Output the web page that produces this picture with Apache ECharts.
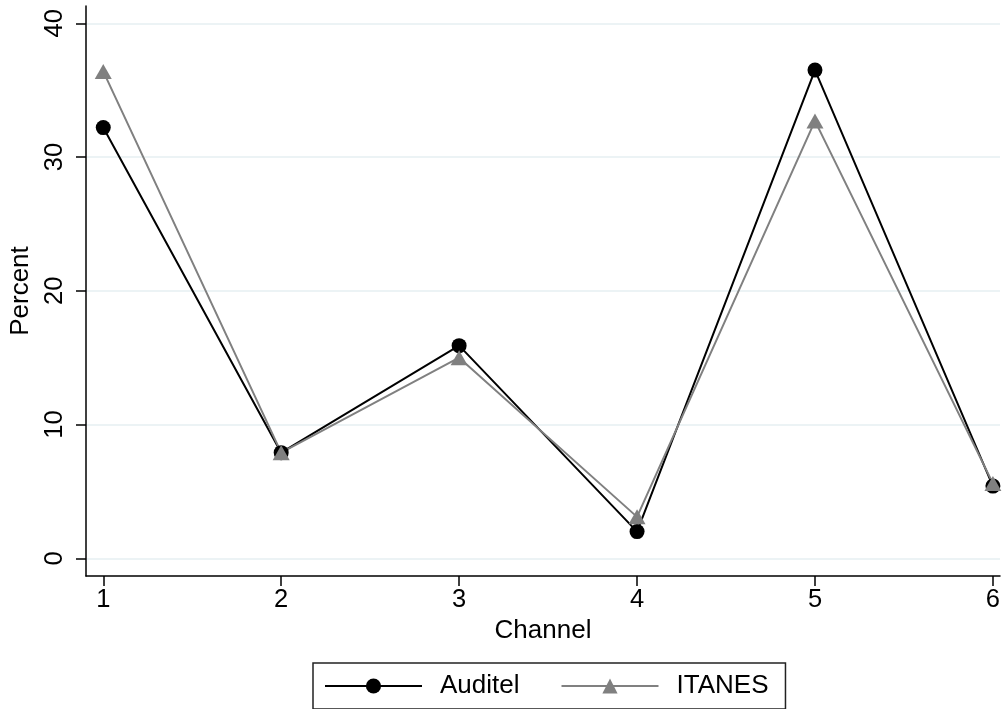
<!DOCTYPE html>
<html>
<head>
<meta charset="utf-8">
<script src="https://cdn.jsdelivr.net/npm/echarts@6/dist/echarts.min.js"></script>
<style>html,body{margin:0;padding:0;background:#fff;}#chart{width:1003px;height:709px;}</style>
</head>
<body>
<div id="chart"></div>
<script>
const channels = [1, 2, 3, 4, 5, 6];
const auditel = [32.2, 7.9, 15.9, 2.0, 36.5, 5.4];
const itanes = [36.4, 7.9, 15.0, 3.1, 32.7, 5.6];
const yTicks = [0, 10, 20, 30, 40];
const xTicks = [1, 2, 3, 4, 5, 6];

const font = '"Liberation Sans", Arial, sans-serif';
const chart = echarts.init(document.getElementById('chart'), null, {renderer: 'canvas'});
chart.setOption({
  backgroundColor: '#ffffff',
  animation: false,
  grid: {left: 86, right: 2, top: 6, bottom: 133, containLabel: false},
  xAxis: {
    type: 'value', min: 0.903, max: 6.04,
    name: 'Channel', nameLocation: 'middle', nameGap: 41,
    nameTextStyle: {fontFamily: font, fontSize: 26, color: '#000'},
    axisLine: {onZero: false, lineStyle: {color: '#000', width: 1.5}},
    axisTick: {show: true, length: 10, inside: false, customValues: xTicks, lineStyle: {color: '#000', width: 1.5}},
    axisLabel: {customValues: xTicks, fontFamily: font, fontSize: 25.5, color: '#000', margin: 11},
    splitLine: {show: false}
  },
  yAxis: {
    type: 'value', min: -1.32, max: 41.29,
    name: 'Percent', nameLocation: 'middle', nameGap: 50, nameRotate: 90,
    nameTextStyle: {fontFamily: font, fontSize: 26, color: '#000'},
    axisLine: {show: true, onZero: false, lineStyle: {color: '#000', width: 1.5}},
    axisTick: {show: true, length: 10, inside: false, customValues: yTicks, lineStyle: {color: '#000', width: 1.5}},
    axisLabel: {customValues: yTicks, rotate: 90, fontFamily: font, fontSize: 25.5, color: '#000', margin: 18},
    splitLine: {show: true, lineStyle: {color: '#e6eff2', width: 1.5}}
  },
  legend: {
    left: 313, top: 663,
    padding: [10, 17, 10, 11],
    borderColor: '#222', borderWidth: 1.5,
    itemWidth: 97, itemHeight: 19, itemGap: 41,
    textStyle: {fontFamily: font, fontSize: 26, color: '#000', padding: [0, 0, 0, 13]},
    data: ['Auditel', 'ITANES']
  },
  series: [
    {
      name: 'Auditel', type: 'line',
      data: channels.map((c, i) => [c, auditel[i]]),
      symbol: 'circle', symbolSize: 15,
      lineStyle: {color: '#000', width: 2},
      itemStyle: {color: '#000'}
    },
    {
      name: 'ITANES', type: 'line',
      data: channels.map((c, i) => [c, itanes[i]]),
      symbol: 'triangle', symbolSize: [17, 15],
      lineStyle: {color: '#808080', width: 2},
      itemStyle: {color: '#808080'}
    }
  ]
});
</script>
</body>
</html>
